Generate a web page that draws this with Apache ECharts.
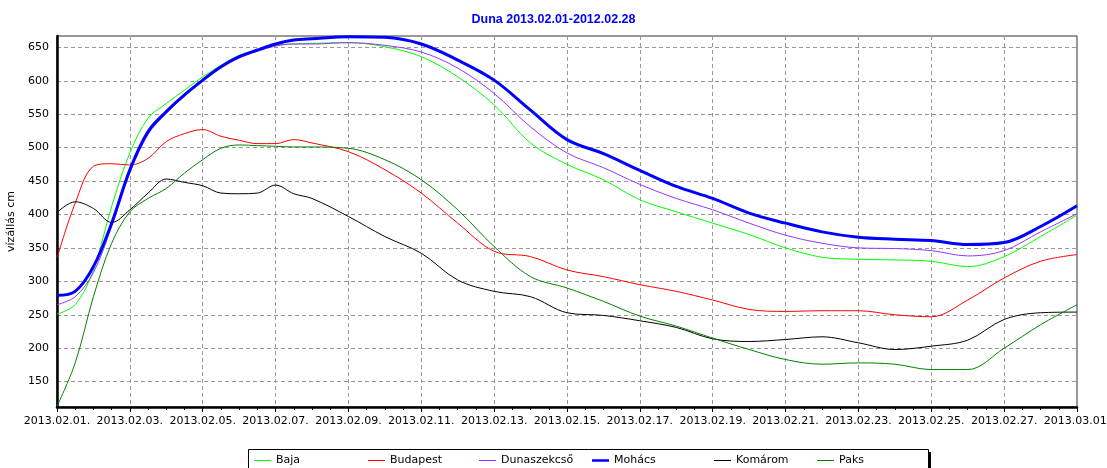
<!DOCTYPE html>
<html>
<head>
<meta charset="utf-8">
<script src="https://cdn.jsdelivr.net/npm/echarts@6/dist/echarts.min.js"></script>
<style>
html,body{margin:0;padding:0;background:#fff;}
#c{width:1107px;height:468px;}
</style>
</head>
<body>
<div id="c"></div>
<script>
// day offsets from 2013.02.01
const days = [0,0.5,1,1.5,2,2.5,3,3.5,4,4.5,5,5.5,6,6.5,7,8,9,10,11,12,13,14,15,16,17,18,19,20,21,22,23,24,25,26,27,28];
const baja        = [251,265,317,412,492,544,566,586,606,623,638,646,653,655,656,657,651,636,606,564,507,475,452,422,404,387,370,350,336,333,332,330,322,337,367,399];
const budapest    = [335,417,472,476,474,484,509,521,527,517,511,506,506,512,507,494,467,432,387,345,337,317,307,295,285,272,258,255,256,256,250,247,272,305,330,340];
const dunaszekcso = [265,277,313,382,462,520,551,577,599,619,634,644,652,655,655,657,653,643,619,581,531,492,470,445,424,407,387,369,357,350,349,346,338,346,374,401];
const mohacs      = [279,285,322,387,467,524,554,579,601,621,636,646,655,661,663,666,665,655,631,601,556,512,491,466,442,424,402,387,374,366,363,361,355,358,382,413];
const komarom     = [403,419,409,388,407,432,453,448,443,432,431,432,444,431,424,397,367,342,302,285,277,253,249,241,231,214,210,213,217,208,198,203,212,243,253,254];
const paks        = [113,178,277,357,404,424,439,462,482,499,504,503,502,501,501,499,482,452,407,352,307,290,270,248,233,215,198,183,176,178,176,168,168,200,235,265];
const xLabels = ['2013.02.01.','2013.02.03.','2013.02.05.','2013.02.07.','2013.02.09.','2013.02.11.','2013.02.13.','2013.02.15.','2013.02.17.','2013.02.19.','2013.02.21.','2013.02.23.','2013.02.25.','2013.02.27.','2013.03.01.'];
const seriesNames = ['Baja','Budapest','Dunaszekcső','Mohács','Komárom','Paks'];
const seriesValues = [baja, budapest, dunaszekcso, mohacs, komarom, paks];
const seriesColors = ['#00ff00','#ff0000','#9933ff','#0000ff','#000000','#008000'];
const seriesWidths = [1,1,1,3,1,1];
const legendLefts = [254,368,479,592,714,817];

const FONT = 'DejaVu Sans';
const chart = echarts.init(document.getElementById('c'), null, {renderer:'canvas'});

const series = seriesNames.map((name,i)=>({
  name: name,
  type: 'line',
  data: days.map((d,j)=>[d, seriesValues[i][j]]),
  showSymbol: false,
  symbol: 'none',
  smooth: 0.35,
  color: seriesColors[i],
  lineStyle: {color: seriesColors[i], width: seriesWidths[i]},
  z: i===3 ? 5 : 3,
  animation: false
}));

// legend drawn as graphic items (line + text) inside a framed box
const legendY = 460;
const legendGraphics = [];
seriesNames.forEach((name,i)=>{
  const x = legendLefts[i];
  const w = seriesWidths[i] === 3 ? 2.5 : 1;
  legendGraphics.push({type: 'line', shape: {x1: x, y1: legendY + 0.5, x2: x + 17, y2: legendY + 0.5}, style: {stroke: seriesColors[i], lineWidth: w}, z: 11});
  legendGraphics.push({type: 'text', x: x + 22, y: legendY, style: {text: name, fill: '#000', font: '11px "' + FONT + '"', textVerticalAlign: 'middle', verticalAlign: 'middle'}, z: 11});
});

chart.setOption({
  animation: false,
  backgroundColor: '#fff',
  title: {
    text: 'Duna 2013.02.01-2012.02.28',
    left: 'center',
    top: 8,
    textStyle: {fontFamily: 'Liberation Sans', fontSize: 12.5, fontWeight: 'bold', color: '#0000ff'}
  },
  grid: {left: 57, right: 30, top: 36, bottom: 61, containLabel: false, outerBoundsMode: 'none', show: true, borderColor: '#333', borderWidth: 1, backgroundColor: 'transparent'},
  xAxis: {
    type: 'value',
    min: 0, max: 28, interval: 2,
    axisLine: {show: true, lineStyle: {color: '#000', width: 2.5}},
    axisTick: {show: true, length: 5, lineStyle: {color: '#000'}},
    minorTick: {show: true, splitNumber: 4, length: 3, lineStyle: {color: '#000'}},
    splitLine: {show: true, lineStyle: {color: '#999', type: [4,3], width: 1}},
    axisLabel: {
      margin: 9,
      fontFamily: FONT, fontSize: 11, color: '#000',
      formatter: v => xLabels[Math.round(v/2)] || ''
    }
  },
  yAxis: {
    type: 'value',
    min: 112, max: 667,
    splitNumber: 10, minInterval: 50, maxInterval: 50,
    name: 'vízállás cm',
    nameLocation: 'middle',
    nameRotate: 90,
    nameGap: 38,
    nameTextStyle: {fontFamily: FONT, fontSize: 11, color: '#000'},
    axisLine: {show: true, lineStyle: {color: '#000', width: 2.5}},
    axisTick: {show: false},
    splitLine: {show: true, lineStyle: {color: '#999', type: [4,3], width: 1}},
    axisLabel: {showMinLabel: false, showMaxLabel: false, margin: 8, fontFamily: FONT, fontSize: 11, color: '#000'}
  },
  graphic: [
    {type: 'rect', shape: {x: 248.5, y: 449.5, width: 680, height: 30}, style: {fill: 'none', stroke: '#000', lineWidth: 1}, z: 10},
    {type: 'rect', shape: {x: 928, y: 452, width: 3, height: 20}, style: {fill: '#000'}, z: 10}
  ].concat(legendGraphics),
  series: series
});
</script>
</body>
</html>
